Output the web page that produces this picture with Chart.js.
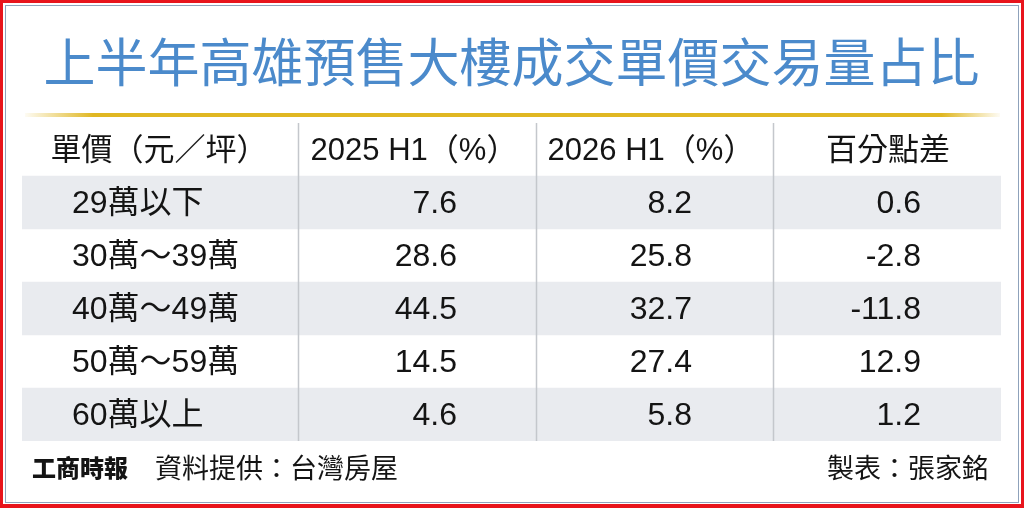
<!DOCTYPE html>
<html lang="zh-Hant">
<head>
<meta charset="utf-8">
<title>上半年高雄預售大樓成交單價交易量占比</title>
<script src="https://cdn.jsdelivr.net/npm/chart.js@4.4.1/dist/chart.umd.min.js"></script>
<style>
  html, body { margin: 0; padding: 0; background: #fff; }
  #wrap { width: 1024px; height: 508px; }
</style>
</head>
<body>
<div id="wrap"><canvas id="priceShareTable" width="1024" height="508"></canvas></div>
<script>
const titleText = "上半年高雄預售大樓成交單價交易量占比";
const columnHeaders = ["單價（元／坪）", "2025 H1（%）", "2026 H1（%）", "百分點差"];
const priceBands = ["29萬以下", "30萬～39萬", "40萬～49萬", "50萬～59萬", "60萬以上"];
const share2025 = [7.6, 28.6, 44.5, 14.5, 4.6];
const share2026 = [8.2, 25.8, 32.7, 27.4, 5.8];
const pointDiff = [0.6, -2.8, -11.8, 12.9, 1.2];
const logoText = "工商時報";
const sourceText = "資料提供：台灣房屋";
const creditText = "製表：張家銘";

window.addEventListener("DOMContentLoaded", () => {
  if (typeof Chart === "undefined") return;
  const canvas = document.getElementById("priceShareTable");

  const rowLabels = ["header"].concat(priceBands);
  const valueColumns = [share2025, share2026, pointDiff];

  // table layout, in x-scale units (0 = left edge of the striped area)
  const tableWidth = 979;
  const colEdges = [276, 514, 751];
  const headerCenters = [137, 392, 629, 866];
  const labelLeft = 50;
  const valueRight = [435, 670, 899];

  const ink = "#141414";
  const stripe = "#e9ebef";
  const rule = "#c4c7cc";
  const blue = "#4b8acb";
  const gold = "#e0b722";
  const sans = '"Liberation Sans", "Noto Sans CJK TC", sans-serif';
  const cjk = '"Noto Sans CJK TC", "Liberation Sans", sans-serif';

  const tablePlugin = {
    id: "tableDecor",
    beforeDraw(chart) {
      const { ctx, width, height, chartArea } = chart;
      ctx.save();
      ctx.fillStyle = "#fff";
      ctx.fillRect(0, 0, width, height);

      // outer red frame + thin inner frame
      ctx.fillStyle = "#e8141c";
      ctx.fillRect(0, 0, width, 3);
      ctx.fillRect(0, height - 4, width, 4);
      ctx.fillRect(0, 0, 3, height);
      ctx.fillRect(width - 3, 0, 3, height);
      ctx.strokeStyle = "#8fa2bb";
      ctx.lineWidth = 1;
      ctx.strokeRect(5.5, 5.5, width - 11, height - 11);

      // title
      const cx = (chartArea.left + chartArea.right) / 2;
      ctx.fillStyle = blue;
      ctx.font = "52px " + cjk;
      ctx.textAlign = "center";
      ctx.textBaseline = "middle";
      ctx.fillText(titleText, cx, chartArea.top - 61);

      // gold rule under the title
      const gx0 = chartArea.left + 3, gx1 = chartArea.right - 1;
      const grad = ctx.createLinearGradient(gx0, 0, gx1, 0);
      grad.addColorStop(0, "rgba(224,183,34,0.05)");
      grad.addColorStop(0.07, gold);
      grad.addColorStop(0.94, gold);
      grad.addColorStop(1, "rgba(224,183,34,0.05)");
      ctx.fillStyle = grad;
      ctx.fillRect(gx0, chartArea.top - 10, gx1 - gx0, 4);
      ctx.restore();
    },
    afterDatasetsDraw(chart) {
      const { ctx, chartArea } = chart;
      const x = chart.scales.x;
      const y = chart.scales.y;
      ctx.save();

      // column separators
      ctx.strokeStyle = rule;
      ctx.lineWidth = 1.5;
      colEdges.forEach((edge) => {
        const px = Math.round(x.getPixelForValue(edge)) + 0.5;
        ctx.beginPath();
        ctx.moveTo(px, chartArea.top);
        ctx.lineTo(px, chartArea.bottom);
        ctx.stroke();
      });

      ctx.fillStyle = ink;
      ctx.textBaseline = "middle";

      // header row
      ctx.font = "31px " + sans;
      ctx.textAlign = "center";
      columnHeaders.forEach((h, c) => {
        ctx.fillText(h, x.getPixelForValue(headerCenters[c]), y.getPixelForValue(0) + 2);
      });

      // body rows
      ctx.font = "32px " + sans;
      priceBands.forEach((band, r) => {
        const py = y.getPixelForValue(r + 1) + 2;
        ctx.textAlign = "left";
        ctx.fillText(band, x.getPixelForValue(labelLeft), py);
        ctx.textAlign = "right";
        valueColumns.forEach((col, c) => {
          ctx.fillText(col[r].toFixed(1), x.getPixelForValue(valueRight[c]), py);
        });
      });

      // footer
      const fy = chartArea.bottom + 27;
      ctx.textAlign = "left";
      ctx.font = "900 24px " + cjk;
      ctx.fillText(logoText, chartArea.left + 10, fy);
      ctx.font = "27px " + cjk;
      ctx.fillText(sourceText, chartArea.left + 133, fy);
      ctx.textAlign = "right";
      ctx.fillText(creditText, chartArea.right - 12, fy);
      ctx.restore();
    }
  };

  new Chart(canvas, {
    type: "bar",
    data: {
      labels: rowLabels,
      datasets: [
        {
          label: "stripes",
          data: rowLabels.map((_, i) => (i % 2 === 1 ? [0, tableWidth] : null)),
          backgroundColor: stripe,
          borderWidth: 0,
          barPercentage: 1,
          categoryPercentage: 1
        }
      ]
    },
    options: {
      indexAxis: "y",
      responsive: false,
      animation: false,
      layout: { padding: { top: 123, right: 23, bottom: 67, left: 22 } },
      plugins: { legend: { display: false }, tooltip: { enabled: false }, title: { display: false } },
      scales: {
        x: { type: "linear", min: 0, max: tableWidth, display: false },
        y: { type: "category", display: false, offset: true }
      }
    },
    plugins: [tablePlugin]
  });
});
</script>
</body>
</html>
